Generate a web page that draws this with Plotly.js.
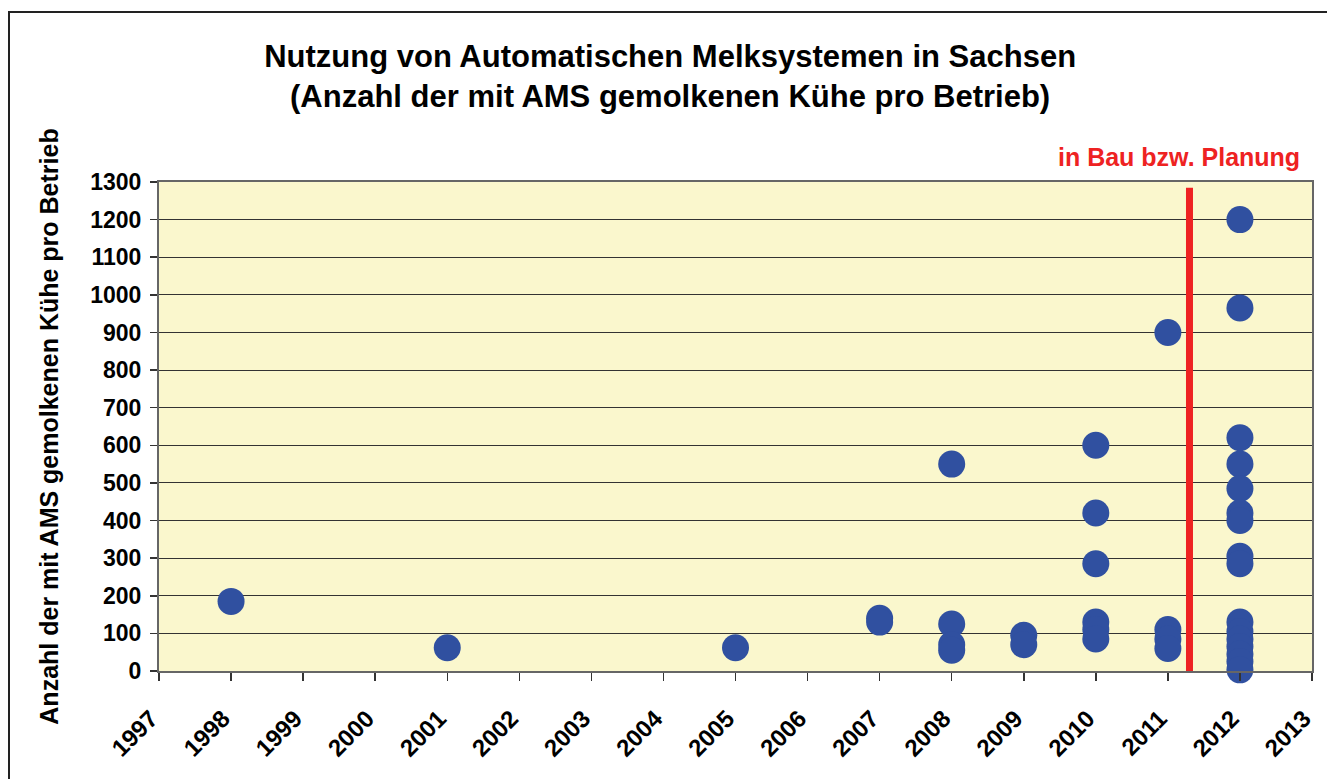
<!DOCTYPE html>
<html>
<head>
<meta charset="utf-8">
<script src="https://cdn.plot.ly/plotly-3.0.1.min.js"></script>
<style>
  html, body { margin: 0; padding: 0; background: #ffffff; }
  #frame { position: absolute; left: 8px; top: 11px; width: 1400px; height: 900px; border-left: 2px solid #222; border-top: 2px solid #222; }
  #chart { position: absolute; left: 0; top: 0; width: 1327px; height: 779px; }
</style>
</head>
<body>
<div id="frame"></div>
<div id="chart"></div>
<script>
// Data
const years = [
  1998,
  2001,
  2005,
  2007, 2007,
  2008, 2008, 2008, 2008,
  2009, 2009,
  2010, 2010, 2010, 2010, 2010, 2010,
  2011, 2011, 2011, 2011,
  2012, 2012, 2012, 2012, 2012, 2012, 2012, 2012, 2012, 2012, 2012, 2012, 2012, 2012, 2012, 2012, 2012
];
const cows = [
  185,
  62,
  62,
  140, 130,
  550, 125, 70, 55,
  95, 70,
  600, 420, 285, 130, 110, 85,
  900, 110, 85, 60,
  1200, 965, 620, 550, 485, 420, 400, 305, 285, 130, 105, 85, 65, 45, 25, 3
];
const xTickYears = [1997,1998,1999,2000,2001,2002,2003,2004,2005,2006,2007,2008,2009,2010,2011,2012,2013];
const xTickLabels = xTickYears.map(String);
const yTicks = [0,100,200,300,400,500,600,700,800,900,1000,1100,1200,1300];
const markerX = [2011.3, 2011.3];
const markerY = [0, 1285];

const titleText = 'Nutzung von Automatischen Melksystemen in Sachsen<br>(Anzahl der mit AMS gemolkenen Kühe pro Betrieb)';
const yTitleText = 'Anzahl der mit AMS gemolkenen Kühe pro Betrieb';
const noteText = 'in Bau bzw. Planung';

const font = 'Liberation Sans, Arial, sans-serif';

const traces = [
  {
    x: markerX, y: markerY, type: 'scatter', mode: 'lines',
    line: {color: '#ee2222', width: 7}, hoverinfo: 'skip', showlegend: false
  },
  {
    x: years, y: cows, type: 'scatter', mode: 'markers',
    marker: {color: '#3050a0', size: 27, line: {width: 0}},
    cliponaxis: false,
    showlegend: false
  }
];

const layout = {
  width: 1327, height: 779,
  margin: {l: 159, r: 15, t: 182, b: 108},
  paper_bgcolor: 'rgba(0,0,0,0)',
  plot_bgcolor: '#faf7cd',
  font: {family: font, color: '#000'},
  title: {
    text: '<b>' + titleText + '</b>',
    font: {family: font, size: 31, color: '#000'},
    x: 0.505, xanchor: 'center', y: 0.914, yanchor: 'middle'
  },
  xaxis: {
    range: [1997, 2013],
    tickmode: 'array', tickvals: xTickYears, ticktext: xTickLabels.map(s => '<b>' + s + '</b>'),
    tickangle: -45,
    tickfont: {family: font, size: 24, color: '#000'},
    ticks: 'outside', ticklen: 8, tickcolor: '#333', tickwidth: 1.5,
    ticklabelstandoff: 14, ticklabelshift: -8,
    showgrid: false, zeroline: false,
    showline: true, linecolor: '#666', linewidth: 2, mirror: true
  },
  yaxis: {
    range: [0, 1300],
    tickmode: 'array', tickvals: yTicks, ticktext: yTicks.map(v => '<b>' + v + '</b>'),
    tickfont: {family: font, size: 23, color: '#000'},
    ticks: 'outside', ticklen: 7, tickcolor: '#333', tickwidth: 1.5,
    ticklabelstandoff: 4,
    showgrid: true, gridcolor: '#333', gridwidth: 1,
    zeroline: false,
    showline: true, linecolor: '#666', linewidth: 2, mirror: true,
    title: {text: '<b>' + yTitleText + '</b>', font: {family: font, size: 25, color: '#000'}, standoff: 24}
  },
  annotations: [
    {
      text: '<b>' + noteText + '</b>', xref: 'paper', yref: 'paper',
      x: 1 - 10/1153, y: 1 + 25/489, xanchor: 'right', yanchor: 'middle',
      showarrow: false, font: {family: font, size: 25, color: '#ee2222'}
    }
  ]
};

Plotly.newPlot('chart', traces, layout, {displayModeBar: false, staticPlot: true});
</script>
</body>
</html>
